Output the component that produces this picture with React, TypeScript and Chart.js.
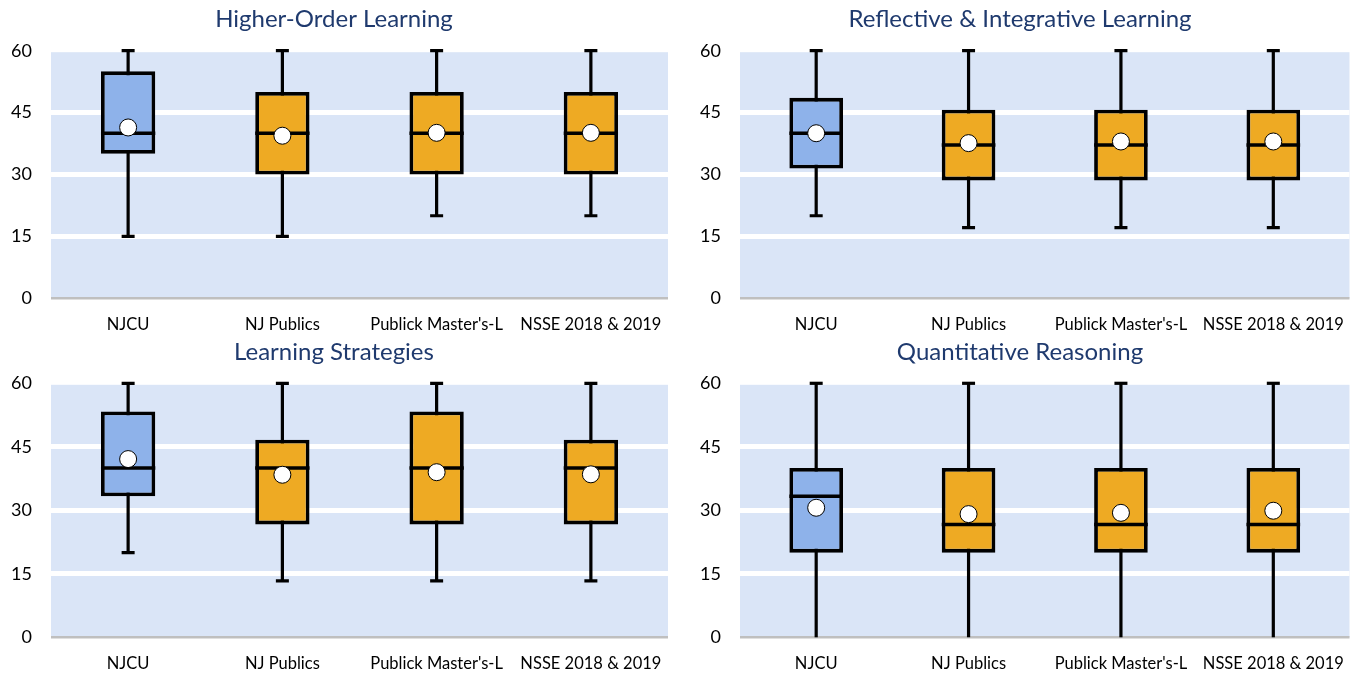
import React, { useEffect, useRef } from "react";
import { Chart, registerables } from "chart.js";

Chart.register(...registerables);

const categories = ["NJCU", "NJ Publics", "Publick Master's-L", "NSSE 2018 & 2019"];
const yTicks = [0, 15, 30, 45, 60];

const hoMin = [15, 15, 20, 20];
const hoQ1 = [35, 30, 30, 30];
const hoMed = [40, 40, 40, 40];
const hoQ3 = [55, 50, 50, 50];
const hoMax = [60, 60, 60, 60];
const hoMean = [41.4, 39.4, 40.1, 40.1];

const riMin = [20, 17.14, 17.14, 17.14];
const riQ1 = [31.43, 28.57, 28.57, 28.57];
const riMed = [40, 37.14, 37.14, 37.14];
const riQ3 = [48.57, 45.71, 45.71, 45.71];
const riMax = [60, 60, 60, 60];
const riMean = [40.0, 37.6, 38.0, 38.0];

const lsMin = [20, 13.33, 13.33, 13.33];
const lsQ1 = [33.33, 26.67, 26.67, 26.67];
const lsMed = [40, 40, 40, 40];
const lsQ3 = [53.33, 46.67, 53.33, 46.67];
const lsMax = [60, 60, 60, 60];
const lsMean = [42.1, 38.4, 39.0, 38.5];

const qrMin = [0, 0, 0, 0];
const qrQ1 = [20, 20, 20, 20];
const qrMed = [33.33, 26.67, 26.67, 26.67];
const qrQ3 = [40, 40, 40, 40];
const qrMax = [60, 60, 60, 60];
const qrMean = [30.6, 29.1, 29.4, 29.9];

const boxColors = ["#8EB2EA", "#EEAA23", "#EEAA23", "#EEAA23"];
const FONT = "Lato, 'Open Sans', sans-serif";

type Stats = { min: number[]; q1: number[]; med: number[]; q3: number[]; max: number[]; mean: number[] };

type Frame = {
  left: number; top: number; width: number; height: number;
  yWidth: number; xHeight: number; padRight: number;
  titleTop: number; titleBottom: number;
};

function BoxChart({ title, stats, frame }: { title: string; stats: Stats; frame: Frame }) {
  const ref = useRef<HTMLCanvasElement | null>(null);
  useEffect(() => {
    if (!ref.current) return;
    const s = stats;
    const bgPlugin = {
      id: "plotBg",
      beforeDraw(chart: any) {
        const { ctx, chartArea } = chart;
        const y = chart.scales.y;
        ctx.save();
        ctx.fillStyle = "#DAE5F7";
        const top = y.getPixelForValue(60) + 1.5;
        const bot = y.getPixelForValue(0);
        ctx.fillRect(chartArea.left, top, chartArea.right - chartArea.left, bot - top);
        ctx.restore();
      },
    };
    const boxPlugin = {
      id: "boxParts",
      beforeDatasetsDraw(chart: any) {
        const { ctx } = chart;
        const x = chart.scales.x;
        const y = chart.scales.y;
        ctx.save();
        ctx.strokeStyle = "#000";
        ctx.lineWidth = 3.2;
        s.min.forEach((mn, i) => {
          const cx = x.getPixelForValue(i);
          const yMin = y.getPixelForValue(mn);
          const yMax = y.getPixelForValue(s.max[i]);
          ctx.beginPath();
          ctx.moveTo(cx, yMax);
          ctx.lineTo(cx, yMin);
          ctx.stroke();
          ctx.beginPath();
          ctx.moveTo(cx - 6.5, yMax);
          ctx.lineTo(cx + 6.5, yMax);
          if (mn > y.min) {
            ctx.moveTo(cx - 6.5, yMin);
            ctx.lineTo(cx + 6.5, yMin);
          }
          ctx.stroke();
        });
        ctx.restore();
      },
      afterDatasetDraw(chart: any, args: any) {
        if (args.index !== 0) return;
        const { ctx } = chart;
        const y = chart.scales.y;
        const meta = chart.getDatasetMeta(0);
        ctx.save();
        ctx.strokeStyle = "#000";
        ctx.lineWidth = 3.5;
        meta.data.forEach((bar: any, i: number) => {
          const yy = y.getPixelForValue(s.med[i]);
          ctx.beginPath();
          ctx.moveTo(bar.x - bar.width / 2, yy);
          ctx.lineTo(bar.x + bar.width / 2, yy);
          ctx.stroke();
        });
        ctx.restore();
      },
    };
    const chart = new Chart(ref.current, {
      type: "bar",
      data: {
        labels: categories,
        datasets: [
          {
            type: "bar",
            data: s.q1.map((v, i) => [v, s.q3[i]]),
            backgroundColor: boxColors,
            borderColor: "#000",
            borderWidth: 3.8,
            borderSkipped: false,
            barPercentage: 0.352,
            categoryPercentage: 1,
            order: 2,
          } as any,
          {
            type: "line",
            data: s.mean,
            showLine: false,
            pointRadius: 8.5,
            pointBackgroundColor: "#FFFFFF",
            pointBorderColor: "#000",
            pointBorderWidth: 1,
            order: 1,
          } as any,
        ],
      },
      options: {
        responsive: false,
        animation: false,
        devicePixelRatio: 1,
        layout: { padding: { left: 0, right: frame.padRight, top: 0, bottom: 0 } },
        plugins: {
          legend: { display: false },
          tooltip: { enabled: false },
          title: {
            display: true,
            text: title,
            color: "#1F3A6E",
            font: { family: FONT, size: 24, weight: "normal", lineHeight: 1.1 },
            padding: { top: frame.titleTop, bottom: frame.titleBottom },
          },
        },
        scales: {
          x: {
            grid: { display: false, drawTicks: false },
            border: { display: false },
            ticks: { color: "#000", font: { family: FONT, size: 16.5 }, padding: 16, maxRotation: 0, autoSkip: false },
            afterFit: (sc: any) => { sc.height = frame.xHeight; },
          },
          y: {
            min: 0,
            max: 60,
            afterBuildTicks: (sc: any) => { sc.ticks = yTicks.map((v) => ({ value: v })); },
            ticks: { color: "#000", font: { family: FONT, size: 18 }, padding: 19 },
            grid: {
              drawTicks: false,
              color: (c: any) => (c.tick && c.tick.value === 0 ? "#BFBFBF" : c.tick && c.tick.value === 60 ? "rgba(0,0,0,0)" : "#FFFFFF"),
              lineWidth: (c: any) => (c.tick && c.tick.value === 0 ? 2.5 : 5),
            },
            border: { display: false },
            afterFit: (sc: any) => { sc.width = frame.yWidth; },
          },
        },
      } as any,
      plugins: [bgPlugin, boxPlugin],
    });
    return () => chart.destroy();
  }, []);
  return (
    <div style={{ position: "absolute", left: frame.left, top: frame.top, width: frame.width, height: frame.height }}>
      <canvas ref={ref} width={frame.width} height={frame.height} style={{ width: frame.width, height: frame.height, display: "block" }} />
    </div>
  );
}

// title box height = titleTop + 24*1.1 + titleBottom
const topLeft: Frame = { left: 0, top: 0, width: 680, height: 338, yWidth: 51, xHeight: 39.7, padRight: 12, titleTop: 6.5, titleBottom: 17.8 };
const topRight: Frame = { left: 680, top: 0, width: 681, height: 338, yWidth: 60, xHeight: 39.7, padRight: 1, titleTop: 6.5, titleBottom: 17.8 };
const botLeft: Frame = { left: 0, top: 338, width: 680, height: 335, yWidth: 51, xHeight: 35.7, padRight: 12, titleTop: 1.5, titleBottom: 17.4 };
const botRight: Frame = { left: 680, top: 338, width: 681, height: 335, yWidth: 60, xHeight: 35.7, padRight: 1, titleTop: 1.5, titleBottom: 17.4 };

export default function App() {
  return (
    <div style={{ position: "absolute", left: 0, top: 0, width: 1361, height: 673, background: "#FFFFFF" }}>
      <BoxChart title="Higher-Order Learning" stats={{ min: hoMin, q1: hoQ1, med: hoMed, q3: hoQ3, max: hoMax, mean: hoMean }} frame={topLeft} />
      <BoxChart title="Reflective & Integrative Learning" stats={{ min: riMin, q1: riQ1, med: riMed, q3: riQ3, max: riMax, mean: riMean }} frame={topRight} />
      <BoxChart title="Learning Strategies" stats={{ min: lsMin, q1: lsQ1, med: lsMed, q3: lsQ3, max: lsMax, mean: lsMean }} frame={botLeft} />
      <BoxChart title="Quantitative Reasoning" stats={{ min: qrMin, q1: qrQ1, med: qrMed, q3: qrQ3, max: qrMax, mean: qrMean }} frame={botRight} />
    </div>
  );
}
